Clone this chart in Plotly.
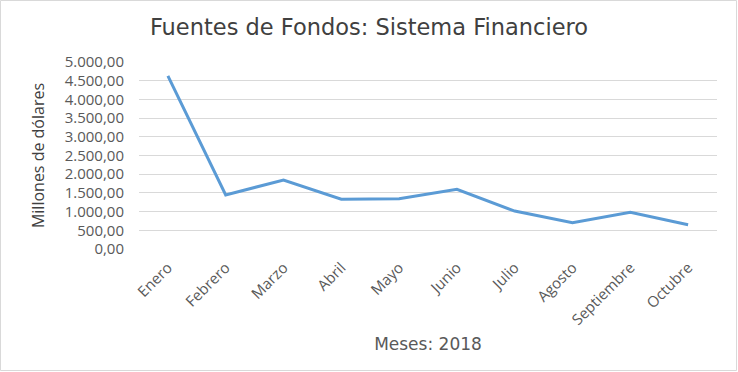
import plotly.graph_objects as go

meses = ["Enero", "Febrero", "Marzo", "Abril", "Mayo", "Junio", "Julio", "Agosto", "Septiembre", "Octubre"]
valores = [4630, 1445, 1845, 1330, 1345, 1595, 1015, 705, 980, 650]

W, H = 738, 372
L, R, T, B = 139, 21, 62, 123
pw, ph = W - L - R, H - T - B

def px(x):
    return (x - L) / pw

def py(y):
    return (H - B - y) / ph

fig = go.Figure(go.Scatter(
    x=meses, y=valores, mode="lines",
    line=dict(color="#5b9bd5", width=3),
))

fig.update_layout(
    width=W, height=H,
    margin=dict(l=L, r=R, t=T, b=B, autoexpand=False),
    paper_bgcolor="white", plot_bgcolor="white",
    separators=",.",
    showlegend=False,
    font=dict(family="Open Sans, Liberation Sans, sans-serif", color="#595959"),
    title=dict(text="Fuentes de Fondos: Sistema Financiero", x=0.5, xanchor="center", xref="container",
               y=1 - 27 / H, yanchor="middle",
               font=dict(family="DejaVu Sans, sans-serif", size=22.5, color="#404040")),
    xaxis=dict(
        range=[-0.5, 9.5], automargin=False,
        tickangle=-45, tickfont=dict(size=15, color="#595959"),
        showgrid=False, showline=False, ticks="", ticklabelstandoff=6,
        title=dict(text="Meses: 2018", font=dict(family="DejaVu Sans, sans-serif", size=17, color="#595959"), standoff=10),
    ),
    yaxis=dict(
        range=[0, 5000], dtick=500, tickformat=",.2f", automargin=False,
        tickfont=dict(size=15, color="#595959"),
        gridcolor="#d9d9d9", gridwidth=1, zeroline=False, showline=False,
        ticks="", ticklabelstandoff=14,
        title=dict(text="Millones de dólares", font=dict(size=16, color="#404040"), standoff=16),
    ),
    shapes=[dict(type="rect", xref="paper", yref="paper",
                 x0=px(0.5), x1=px(W - 1.5), y0=py(H - 1.5), y1=py(0.5),
                 line=dict(color="#d9d9d9", width=1), layer="below")],
)

fig.write_html("out.html", config={"displayModeBar": False},
               post_script="document.body.style.margin='0px';")
